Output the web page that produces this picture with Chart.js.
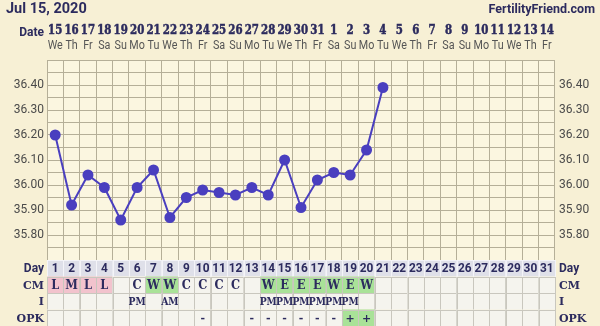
<!DOCTYPE html>
<html>
<head>
<meta charset="utf-8">
<script src="https://cdn.jsdelivr.net/npm/chart.js@4.4.1/dist/chart.umd.min.js"></script>
<style>
  html,body{margin:0;padding:0;background:#f7f0d5;}
  #wrap{width:600px;height:326px;}
</style>
</head>
<body>
<div id="wrap"><canvas id="bbt" width="600" height="326"></canvas></div>
<script>
// ── données du cycle ──
const CHART_TITLE = 'Jul 15, 2020';
const SITE = 'FertilityFriend.com';
const DATE_NUMS = ['15','16','17','18','19','20','21','22','23','24','25','26','27','28','29','30','31',
                   '1','2','3','4','5','6','7','8','9','10','11','12','13','14'];
const WEEKDAYS = ['We','Th','Fr','Sa','Su','Mo','Tu','We','Th','Fr','Sa','Su','Mo','Tu','We','Th','Fr',
                  'Sa','Su','Mo','Tu','We','Th','Fr','Sa','Su','Mo','Tu','We','Th','Fr'];
const CYCLE_DAYS = ['1','2','3','4','5','6','7','8','9','10','11','12','13','14','15','16',
                    '17','18','19','20','21','22','23','24','25','26','27','28','29','30','31'];
const TEMPS = [36.20, 35.92, 36.04, 35.99, 35.86, 35.99, 36.06, 35.87, 35.95, 35.98, 35.97,
               35.96, 35.99, 35.96, 36.10, 35.91, 36.02, 36.05, 36.04, 36.14, 36.39];
const CM  = ['L','M','L','L','','C','W','W','C','C','C','C','','W','E','E','E','W','E','W'];
const INT = ['','','','','','PM','','AM','','','','','','PM','PM','PM','PM','PM','PM'];
const OPK = ['','','','','','','','','','-','','','-','-','-','-','-','-','+','+'];
const Y_MIN = 35.70, Y_MAX = 36.50, Y_STEP = 0.05;

const NAVY = '#2c2b5e';
const SANS = 'Roboto, "Noto Sans", sans-serif';
const SLAB = '"DejaVu Serif", serif';
const GRID = '#b5af98';
const LINE = '#4a3fbf';

function yTicks(scale){
  const t=[];
  const n=Math.round((Y_MAX-Y_MIN)/Y_STEP);
  for(let i=0;i<=n;i++) t.push({value:Math.round((Y_MIN+i*Y_STEP)*100)/100});
  scale.ticks=t;
}
function yLabel(v){
  const k=Math.round(v*100);
  return (k%10===0 && k>Math.round(Y_MIN*100) && k<Math.round(Y_MAX*100)) ? (k/100).toFixed(2) : '';
}

function cellFill(row, v){
  if(row==='CM'){
    if(v==='L'||v==='M') return '#f2c3cd';
    if(v==='W'||v==='E') return '#a9e298';
  }
  if(row==='OPK' && v==='+') return '#a9e298';
  return '#f5f4ee';
}

// texte centré, resserré horizontalement (police "condensée"), épaissi si besoin
function narrowText(ctx, txt, x, y, sx, heavy){
  ctx.save();
  ctx.translate(x, y);
  ctx.scale(sx, 1);
  ctx.fillText(txt, 0, 0);
  if(heavy){ ctx.strokeStyle=ctx.fillStyle; ctx.lineWidth=heavy; ctx.strokeText(txt,0,0); }
  ctx.restore();
}

const paperPlugin = {
  id:'paper',
  beforeDraw(chart){
    const {ctx, chartArea:a} = chart;
    ctx.save();
    ctx.fillStyle='#f7f0d5';
    ctx.fillRect(0,0,chart.width,chart.height);
    ctx.fillStyle='#fbf6e0';
    ctx.fillRect(a.left,a.top,a.right-a.left,a.bottom-a.top);
    ctx.restore();
  },
  afterDraw(chart){
    const {ctx, chartArea:a} = chart;
    const x = chart.scales.x;
    const colW = (x.right-x.left)/CYCLE_DAYS.length;
    ctx.save();
    // en-tête
    ctx.fillStyle=NAVY;
    ctx.textBaseline='middle';
    ctx.font='bold 14.5px '+SANS;
    ctx.textAlign='left';
    ctx.fillText(CHART_TITLE,6,9);
    ctx.font='bold 12.5px '+SANS;
    ctx.textAlign='right';
    ctx.fillText(SITE,595,10);
    ctx.font='bold 12px '+SANS;
    ctx.fillText('Date',44,33);

    // dates + jours de semaine
    ctx.textAlign='center';
    ctx.font='bold 12.5px '+SLAB;
    DATE_NUMS.forEach((d,i)=>narrowText(ctx, d, x.getPixelForValue(i), 31, 0.82, 0.5));
    ctx.fillStyle='#555';
    ctx.font='12.5px '+SANS;
    WEEKDAYS.forEach((d,i)=>narrowText(ctx, d, x.getPixelForValue(i), 46, 0.86));

    // tableau sous le graphe
    const rowH = 16.5;
    const rows = [
      {name:'Day', vals:CYCLE_DAYS, font:'bold 12.5px '+SANS, lfont:'bold 12px '+SANS, sx:0.95},
      {name:'CM',  vals:CM,  font:'bold 12px '+SLAB, lfont:'bold 11px '+SLAB, sx:0.95},
      {name:'I',   vals:INT, font:'bold 10.5px '+SLAB, lfont:'bold 11px '+SLAB, sx:0.88},
      {name:'OPK', vals:OPK, font:'bold 11px '+SLAB,  lfont:'bold 11px '+SLAB, sx:1}
    ];
    rows.forEach((r,ri)=>{
      const top = a.bottom + ri*rowH;
      for(let i=0;i<CYCLE_DAYS.length;i++){
        const cx = x.getPixelForValue(i);
        const v = r.vals[i]||'';
        ctx.fillStyle = r.name==='Day' ? '#dfe0e9' : cellFill(r.name,v);
        ctx.fillRect(cx-colW/2, top, colW, rowH);
        ctx.strokeStyle = r.name==='Day' ? '#f4f4f8' : '#c9c7be';
        ctx.lineWidth=1;
        ctx.strokeRect(Math.round(cx-colW/2)+0.5, Math.round(top)+0.5, Math.round(colW), Math.round(rowH));
      }
      ctx.fillStyle=NAVY;
      ctx.textAlign='center';
      ctx.font=r.font;
      for(let i=0;i<CYCLE_DAYS.length;i++){
        const v=r.vals[i];
        if(v) narrowText(ctx, v, x.getPixelForValue(i), top+rowH/2+1, r.sx);
      }
      ctx.font=r.lfont;
      ctx.textAlign='right';
      ctx.fillText(r.name, a.left-3, top+rowH/2+1);
      ctx.textAlign='left';
      ctx.fillText(r.name, a.right+4, top+rowH/2+1);
    });
    ctx.restore();
  }
};

new Chart(document.getElementById('bbt'), {
  type:'line',
  data:{
    labels: CYCLE_DAYS,
    datasets:[{
      label:'BBT',
      data: TEMPS,
      borderColor: LINE,
      backgroundColor: LINE,
      pointBackgroundColor: LINE,
      pointBorderColor: LINE,
      borderWidth: 2,
      pointRadius: 4.5,
      tension: 0,
      fill: false
    }]
  },
  options:{
    responsive:false,
    animation:false,
    devicePixelRatio:1,
    layout:{ padding:{ top:60, bottom:66, left:0, right:0 } },
    plugins:{ legend:{display:false}, tooltip:{enabled:false} },
    scales:{
      x:{
        type:'category', position:'bottom', offset:true,
        grid:{ color:GRID, offset:true, drawTicks:false },
        border:{ display:false },
        ticks:{ display:false },
        afterFit: s => { s.height = 0; }
      },
      y:{
        type:'linear', position:'left', min:Y_MIN, max:Y_MAX,
        grid:{ color:GRID, drawTicks:false },
        border:{ display:false },
        afterBuildTicks: yTicks,
        ticks:{ autoSkip:false, padding:3, color:'#4a4a4a', font:{ family:SANS, size:12 }, callback:yLabel },
        afterFit: s => { s.width = 47; }
      },
      yRight:{
        type:'linear', position:'right', min:Y_MIN, max:Y_MAX,
        grid:{ display:false, drawTicks:false },
        border:{ display:false },
        afterBuildTicks: yTicks,
        ticks:{ autoSkip:false, padding:4, color:'#4a4a4a', font:{ family:SANS, size:12 }, callback:yLabel },
        afterFit: s => { s.width = 45; }
      }
    }
  },
  plugins:[paperPlugin]
});
</script>
</body>
</html>
